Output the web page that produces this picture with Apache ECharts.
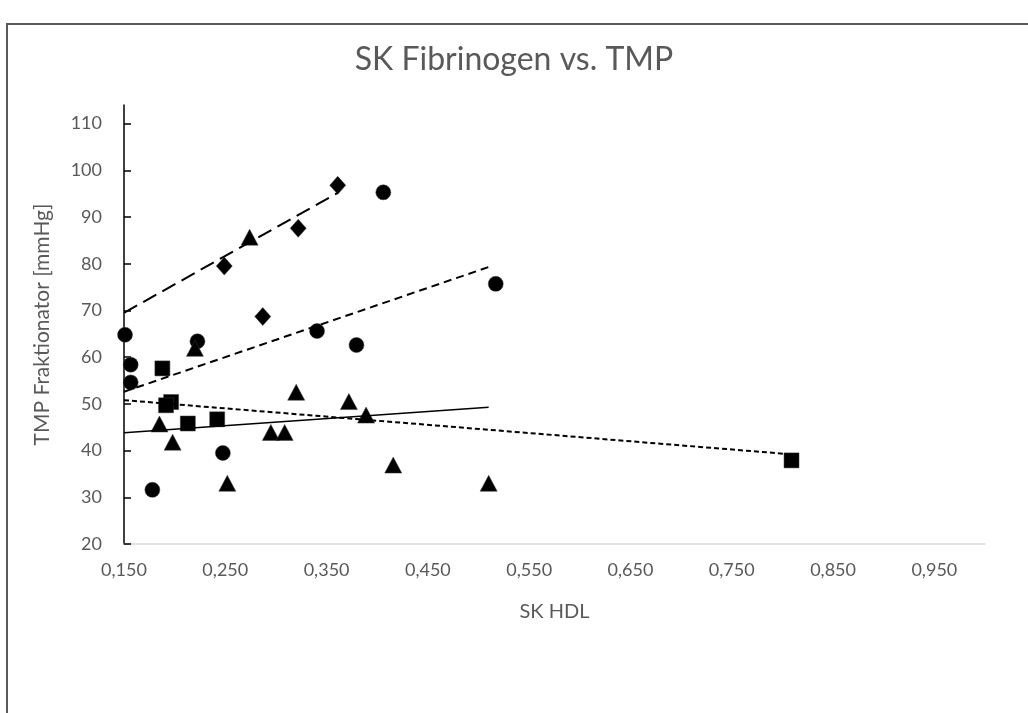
<!DOCTYPE html>
<html>
<head>
<meta charset="utf-8">
<script src="https://cdn.jsdelivr.net/npm/echarts@6/dist/echarts.min.js"></script>
<style>
html,body{margin:0;padding:0;background:#fff;}
#chart{width:1028px;height:713px;}
</style>
</head>
<body>
<div id="chart"></div>
<script>
// ---- data ----
var diamonds = [[0.249, 79.5], [0.287, 68.7], [0.322, 87.6], [0.361, 96.8]];
var circles = [[0.151, 64.8], [0.2225, 63.4], [0.3406, 65.6], [0.3795, 62.6], [0.1566, 58.4],
               [0.1566, 54.6], [0.2476, 39.5], [0.178, 31.6], [0.517, 75.7], [0.406, 95.3]];
var squares = [[0.1879, 57.6], [0.1965, 50.4], [0.1915, 49.7], [0.213, 45.8], [0.242, 46.7], [0.809, 37.9]];
var triangles = [[0.274, 85.7], [0.220, 61.9], [0.320, 52.5], [0.372, 50.5], [0.389, 47.6], [0.185, 45.7],
                 [0.295, 43.9], [0.3086, 43.9], [0.198, 41.8], [0.4158, 36.9], [0.252, 33.0], [0.510, 33.0]];
// trendline endpoints
var trendDiamonds = [[0.15, 69.5], [0.361, 95.2]];
var trendCircles = [[0.15, 52.6], [0.514, 79.6]];
var trendSquares = [[0.15, 50.8], [0.803, 39.3]];
var trendTriangles = [[0.15, 43.8], [0.510, 49.3]];
// tick labels
var xTicks = [0.15, 0.25, 0.35, 0.45, 0.55, 0.65, 0.75, 0.85, 0.95];
var yTicks = [20, 30, 40, 50, 60, 70, 80, 90, 100, 110];

var FONT = 'Lato, "Noto Sans", sans-serif';
var GREY = '#595959';

function scatter(data, symbol, size) {
  return {
    type: 'scatter', data: data, symbol: symbol, symbolSize: size,
    itemStyle: { color: '#000', opacity: 1, borderColor: '#3a3a3a', borderWidth: 0.5 }, z: 3, silent: true
  };
}
function trend(data, dash, width) {
  return {
    type: 'line', data: data, showSymbol: false, symbol: 'none', silent: true,
    lineStyle: { color: '#000', width: width, type: dash }, z: 4
  };
}

var chart = echarts.init(document.getElementById('chart'), null, { renderer: 'canvas' });
chart.setOption({
  animation: false,
  backgroundColor: '#fff',
  textStyle: { fontFamily: FONT },
  title: {
    text: 'SK Fibrinogen vs. TMP', left: 'center', top: 39,
    textStyle: { fontFamily: FONT, fontSize: 32, fontWeight: 'normal', color: GREY }
  },
  graphic: [{
    type: 'rect', shape: { x: 7, y: 24, width: 1100, height: 800 },
    style: { fill: 'none', stroke: '#595959', lineWidth: 2 }, silent: true
  }],
  grid: { left: 124, right: 43, top: 105, bottom: 169, containLabel: false },
  xAxis: {
    type: 'value', min: 0.15, max: 1.0, interval: 0.1,
    name: 'SK HDL', nameLocation: 'middle', nameGap: 58,
    nameTextStyle: { fontFamily: FONT, fontSize: 20, color: GREY },
    axisLine: { show: true, lineStyle: { color: '#d9d9d9', width: 1.5 } },
    axisTick: { show: false },
    splitLine: { show: false },
    axisLabel: {
      customValues: xTicks, margin: 17, fontFamily: FONT, fontSize: 18, color: GREY,
      formatter: function (v) { return v.toFixed(3).replace('.', ','); }
    }
  },
  yAxis: {
    type: 'value', min: 20, max: 114, interval: 10,
    name: 'TMP Fraktionator [mmHg]', nameLocation: 'middle', nameGap: 71,
    nameTextStyle: { fontFamily: FONT, fontSize: 21, color: GREY },
    axisLine: { show: true, lineStyle: { color: '#000', width: 1.5 } },
    axisTick: { show: true, inside: true, length: 7, customValues: yTicks, lineStyle: { color: '#000', width: 1.5 } },
    splitLine: { show: false },
    axisLabel: {
      customValues: yTicks, margin: 22, fontFamily: FONT, fontSize: 18, color: GREY
    }
  },
  series: [
    trend(trendDiamonds, [15, 7], 2),
    trend(trendCircles, [8, 5], 2),
    trend(trendSquares, [5, 3], 2),
    trend(trendTriangles, 'solid', 1.5),
    scatter(circles, 'circle', 15),
    scatter(squares, 'rect', 15),
    scatter(triangles, 'triangle', [17, 16]),
    scatter(diamonds, 'diamond', [16, 18])
  ]
});
</script>
</body>
</html>
